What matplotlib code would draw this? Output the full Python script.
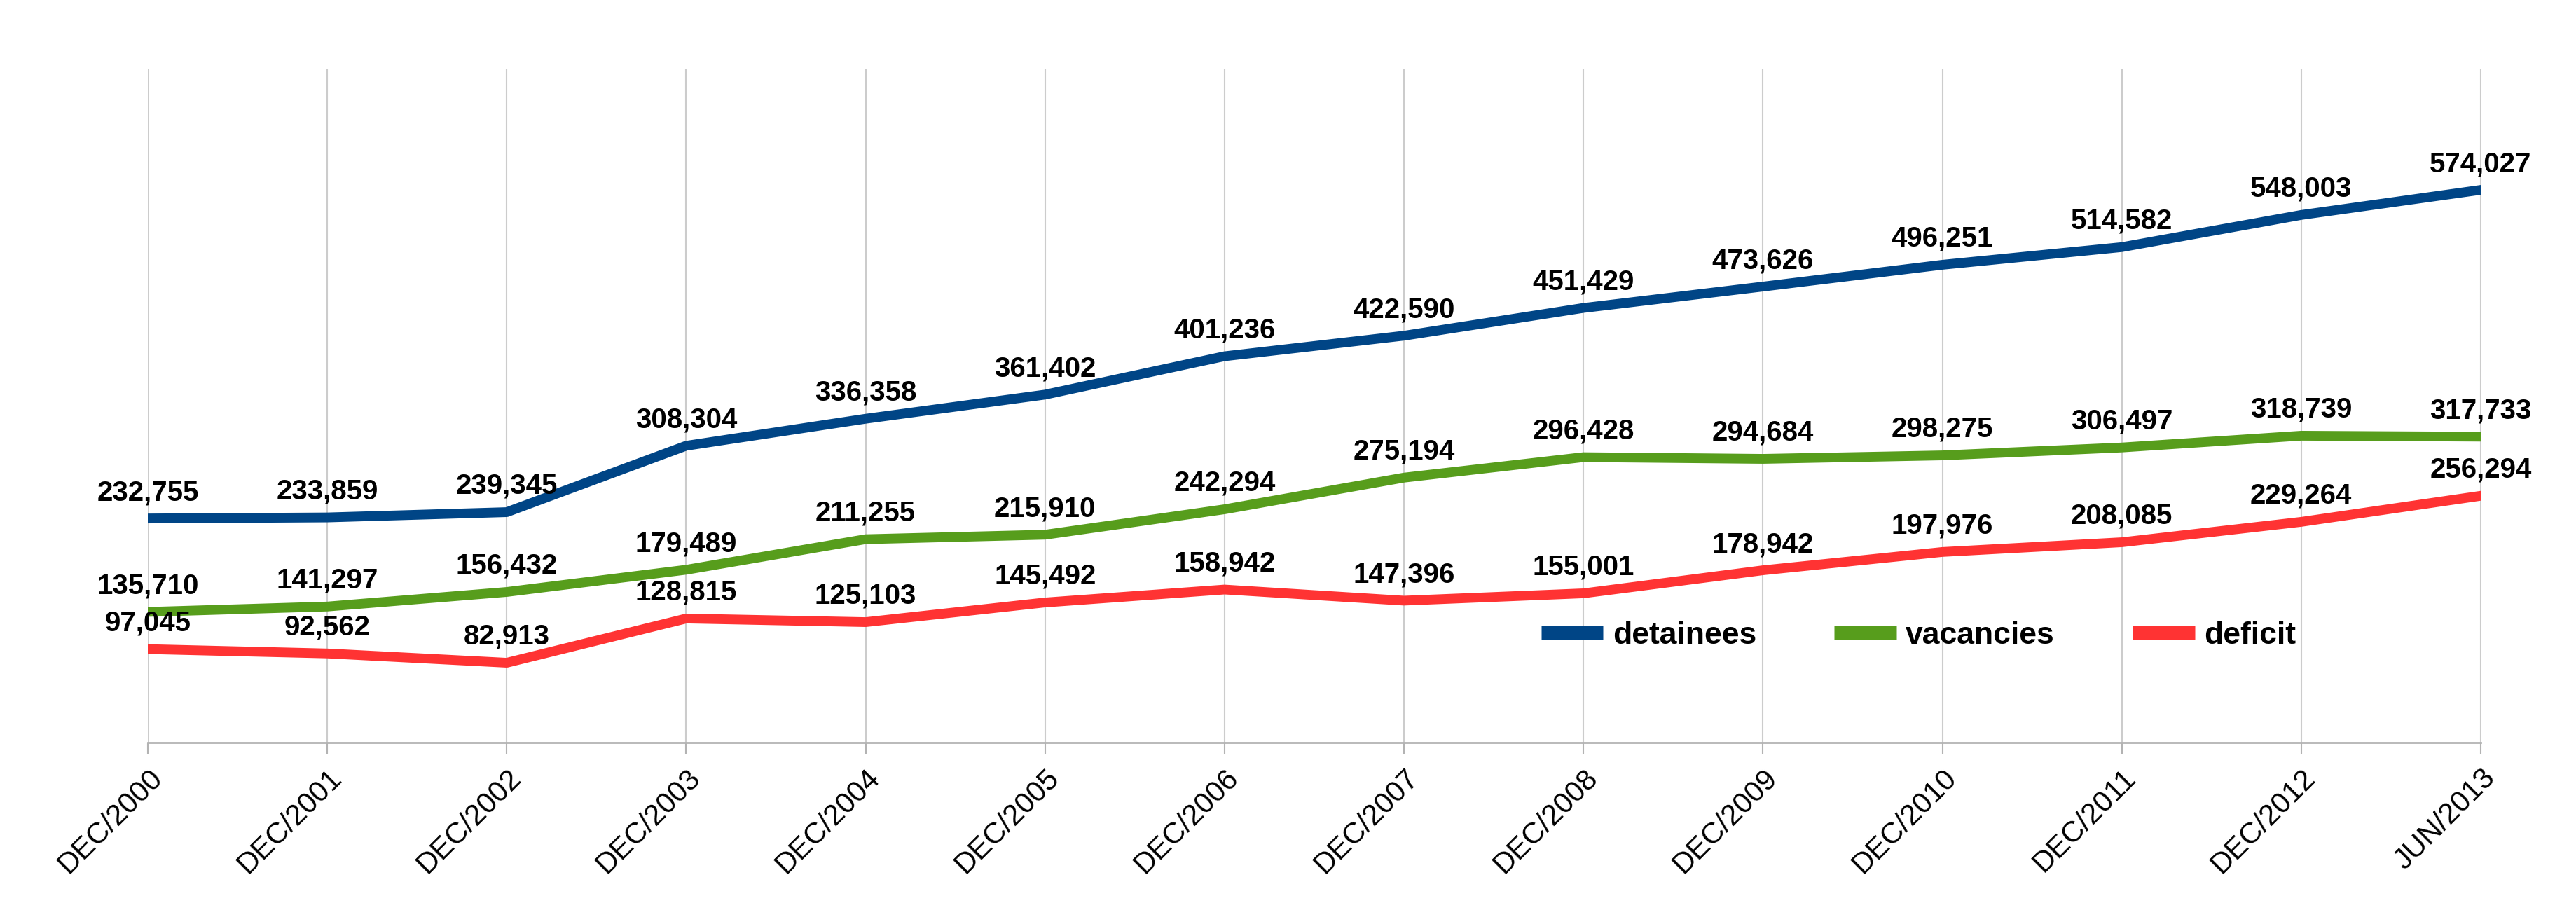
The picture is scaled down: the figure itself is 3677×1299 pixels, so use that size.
import matplotlib
matplotlib.use("Agg")
import matplotlib.pyplot as plt
from matplotlib.ticker import FixedLocator

# chart data
periods = ["DEC/2000", "DEC/2001", "DEC/2002", "DEC/2003", "DEC/2004", "DEC/2005",
           "DEC/2006", "DEC/2007", "DEC/2008", "DEC/2009", "DEC/2010", "DEC/2011",
           "DEC/2012", "JUN/2013"]
detainees = [232755, 233859, 239345, 308304, 336358, 361402, 401236, 422590,
             451429, 473626, 496251, 514582, 548003, 574027]
vacancies = [135710, 141297, 156432, 179489, 211255, 215910, 242294, 275194,
             296428, 294684, 298275, 306497, 318739, 317733]
deficit = [97045, 92562, 82913, 128815, 125103, 145492, 158942, 147396,
           155001, 178942, 197976, 208085, 229264, 256294]

series = [("detainees", detainees, "#004586"),
          ("vacancies", vacancies, "#579d1c"),
          ("deficit", deficit, "#ff3333")]

plt.rcParams['font.family'] = ['Liberation Sans', 'DejaVu Sans']

fig = plt.figure(figsize=(36.77, 12.99), dpi=100)
ax = fig.add_axes([0.0574, 0.184, 0.9056, 0.7406])

x = list(range(len(periods)))
for name, vals, col in series:
    ax.plot(x, vals, color=col, lw=10, label=name)
    for xi, v in zip(x, vals):
        ax.annotate(f"{v:,}", (xi, v), xytext=(0, 13), textcoords='offset points',
                    ha='center', va='bottom', fontsize=29, fontweight='bold')

ax.set_xlim(0, len(periods) - 1)
ax.set_ylim(0, 700000)
ax.xaxis.set_major_locator(FixedLocator(x))
ax.set_xticklabels(periods, rotation=45, ha='right', va='top',
                   rotation_mode='anchor', fontsize=30)
ax.tick_params(axis='x', length=12, width=1.5, color='#b3b3b3', pad=10)
ax.set_yticks([])
ax.grid(axis='x', color='#cccccc', lw=1.5)
ax.set_axisbelow(True)
for s in ['top', 'left', 'right']:
    ax.spines[s].set_visible(False)
ax.spines['bottom'].set_color('#b3b3b3')
ax.spines['bottom'].set_linewidth(2)

leg = ax.legend(loc='center', bbox_to_anchor=(0.759, 0.159), ncol=3, frameon=False,
                prop={'weight': 'bold', 'size': 32},
                handlelength=2.0, columnspacing=2.5, handletextpad=0.3)
for h in leg.get_lines():
    h.set_linewidth(14)
    h.set_solid_capstyle('butt')

fig.savefig("out.png", dpi=100, facecolor='white')
